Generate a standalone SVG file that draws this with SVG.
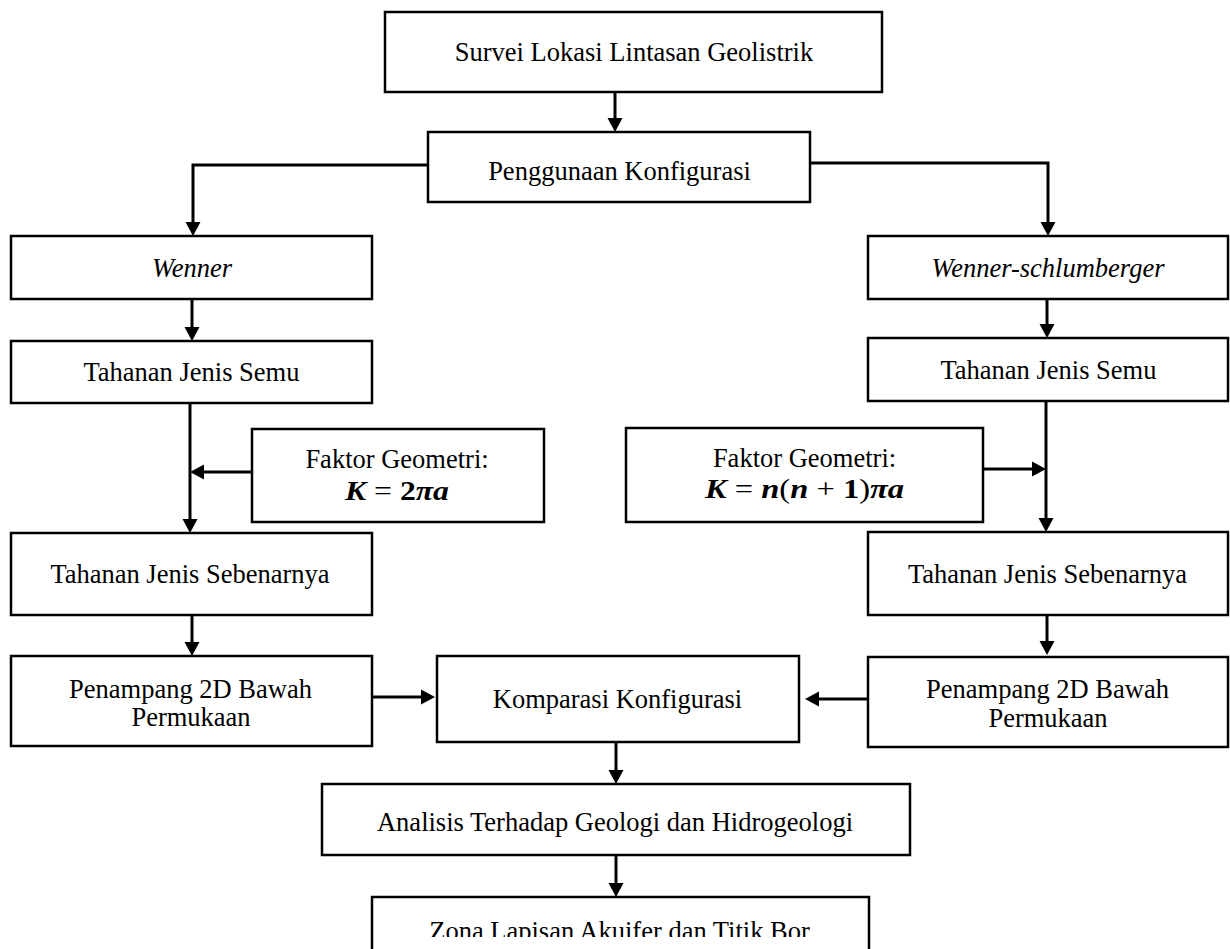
<svg xmlns="http://www.w3.org/2000/svg" width="1230" height="949" viewBox="0 0 1230 949">
<style>
.box{fill:#fff;stroke:#000;stroke-width:2.5}
.t{font-family:'Liberation Serif','Times New Roman',serif;font-size:26.5px;fill:#000;text-anchor:middle}
.i{font-style:italic}
.c{fill:none;stroke:#000;stroke-width:3;marker-end:url(#ah)}
.bi{font-weight:bold;font-style:italic}
.b{font-weight:bold}
</style>
<defs>
<marker id="ah" markerUnits="userSpaceOnUse" markerWidth="15" markerHeight="16" refX="0" refY="7.5" orient="auto" overflow="visible">
<path d="M0,0 L14,7.5 L0,15 z" fill="#000"/>
</marker>
<clipPath id="clipZ"><rect x="0" y="0" width="1230" height="937"/></clipPath>
</defs>
<rect x="0" y="0" width="1230" height="949" fill="#fff"/>

<g id="n-survei"><rect class="box" x="385" y="12" width="497" height="80"/><text class="t" x="634" y="61">Survei Lokasi Lintasan Geolistrik</text></g>
<g id="n-penggunaan"><rect class="box" x="428" y="132" width="382" height="70"/><text class="t" x="619.5" y="180">Penggunaan Konfigurasi</text></g>
<g id="n-wenner"><rect class="box" x="11" y="236" width="361" height="63"/><text class="t i" x="192" y="277">Wenner</text></g>
<g id="n-ws"><rect class="box" x="868" y="236" width="360" height="63"/><text class="t i" x="1048" y="277">Wenner-schlumberger</text></g>
<g id="n-semu-l"><rect class="box" x="11" y="341" width="361" height="62"/><text class="t" x="191.5" y="381">Tahanan Jenis Semu</text></g>
<g id="n-semu-r"><rect class="box" x="868" y="338" width="360" height="63"/><text class="t" x="1048.5" y="379">Tahanan Jenis Semu</text></g>
<g id="n-faktor-l"><rect class="box" x="252" y="429" width="292" height="93"/><text class="t" x="397" y="468">Faktor Geometri:</text><text class="t" x="397" y="500" textLength="104" lengthAdjust="spacingAndGlyphs"><tspan class="bi">K</tspan> = <tspan class="b">2</tspan><tspan class="bi">πa</tspan></text></g>
<g id="n-faktor-r"><rect class="box" x="626" y="428" width="357" height="94"/><text class="t" x="804.5" y="467">Faktor Geometri:</text><text class="t" x="804.5" y="498" textLength="199" lengthAdjust="spacingAndGlyphs"><tspan class="bi">K</tspan> =  <tspan class="bi">n</tspan>(<tspan class="bi">n</tspan> + <tspan class="b">1</tspan>)<tspan class="bi">πa</tspan></text></g>
<g id="n-sebenarnya-l"><rect class="box" x="11" y="533" width="361" height="82"/><text class="t" x="190" y="583">Tahanan Jenis Sebenarnya</text></g>
<g id="n-sebenarnya-r"><rect class="box" x="868" y="532" width="360" height="83"/><text class="t" x="1047.5" y="583">Tahanan Jenis Sebenarnya</text></g>
<g id="n-penampang-l"><rect class="box" x="11" y="656" width="361" height="90"/><text class="t" x="190.5" y="698">Penampang 2D Bawah</text><text class="t" x="191" y="726">Permukaan</text></g>
<g id="n-penampang-r"><rect class="box" x="868" y="657" width="360" height="90"/><text class="t" x="1047.5" y="698">Penampang 2D Bawah</text><text class="t" x="1048" y="727">Permukaan</text></g>
<g id="n-komparasi"><rect class="box" x="437" y="656" width="362" height="86"/><text class="t" x="617.5" y="708">Komparasi Konfigurasi</text></g>
<g id="n-analisis"><rect class="box" x="322" y="784" width="588" height="71"/><text class="t" x="615" y="831">Analisis Terhadap Geologi dan Hidrogeologi</text></g>
<g id="n-zona"><rect class="box" x="372" y="897" width="497" height="90"/><text class="t" x="619.5" y="940" clip-path="url(#clipZ)">Zona Lapisan Akuifer dan Titik Bor</text></g>

<g id="connectors">
<path class="c" d="M615,92 V118"/>
<path class="c" d="M428,165 H193 V222"/>
<path class="c" d="M810,163 H1048 V222"/>
<path class="c" d="M192,299 V327"/>
<path class="c" d="M1047,299 V324"/>
<path class="c" d="M190,403 V519"/>
<path class="c" d="M252,472 H204"/>
<path class="c" d="M1046,401 V518"/>
<path class="c" d="M983,469 H1032"/>
<path class="c" d="M192,615 V642"/>
<path class="c" d="M1047,615 V641"/>
<path class="c" d="M372,697 H421"/>
<path class="c" d="M868,699 H819"/>
<path class="c" d="M616,742 V770"/>
<path class="c" d="M616,855 V883"/>
</g>
</svg>
